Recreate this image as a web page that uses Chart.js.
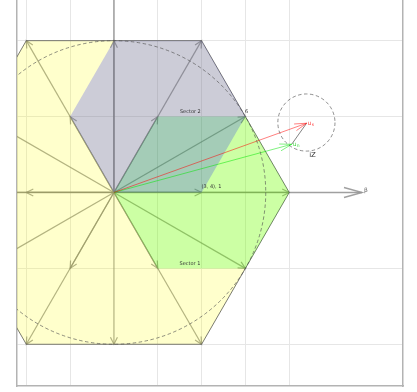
<!DOCTYPE html>
<html>
<head>
<meta charset="utf-8">
<title>Space vector sectors</title>
<script src="https://cdn.jsdelivr.net/npm/chart.js@4.4.0/dist/chart.umd.min.js"></script>
<style>
  html, body { margin: 0; padding: 0; background: #fff; }
  #wrap { width: 417px; height: 392px; }
</style>
</head>
<body>
<div id="wrap"><canvas id="svmChart" width="417" height="392"></canvas></div>
<script>
// outer voltage hexagon (|V| = 1)
const hexX = [1, 0.5, -0.5, -1, -0.5, 0.5, 1];
const hexY = [0, 0.866, 0.866, 0, -0.866, -0.866, 0];

// sector hexagons
const sector1X = [0, 0.25, 0.75, 1, 0.75, 0.25, 0];
const sector1Y = [0, -0.433, -0.433, 0, 0.433, 0.433, 0];
const sector2X = [0, 0.5, 0.75, 0.5, 0, -0.25, 0];
const sector2Y = [0, 0, 0.433, 0.866, 0.866, 0.433, 0];

// switching vectors from the origin
const fullVecX = [1, 0.5, -0.5, -1, -0.5, 0.5];
const fullVecY = [0, 0.866, 0.866, 0, -0.866, -0.866];
const halfVecX = [0.5, 0.25, -0.25, -0.5, -0.25, 0.25];
const halfVecY = [0, 0.433, 0.433, 0, -0.433, -0.433];
const midVecX = [0.75, 0, -0.75, -0.75, 0, 0.75];
const midVecY = [0.433, 0.866, 0.433, -0.433, -0.866, -0.433];

// phasors u_s and u_n
const usPoint = [1.099, 0.395];
const unPoint = [1.014, 0.275];

// alpha / beta axes
const axisAlphaX = [-0.6, 1.415];
const axisBetaY = [0, 1.3];

// dashed circles: inscribed circle and |iZ| circle around u_s
const circleX = [0, 1.098];
const circleY = [0, 0.399];
const circleR = [0.866, 0.163];

const xTicks = [-0.5, -0.25, 0.25, 0.5, 0.75, 1];
const yTicks = [-0.866, -0.433, 0.433, 0.866];

const labelText = ["Sector 2", "6", "Sector 1", "(3, 4), 1", "iZ", "β"];
const labelX = [0.436, 0.757, 0.434, 0.50, 1.133, 1.438];
const labelY = [0.459, 0.459, -0.405, 0.031, 0.21, 0.014];

const FONT = "DejaVu Sans";

function pts(xs, ys) {
    return xs.map((x, i) => ({ x: x, y: ys[i] }));
}
function seg(x0, y0, x1, y1) {
    return [{ x: x0, y: y0 }, { x: x1, y: y1 }];
}

const datasets = [];

// axis lines
datasets.push({
    data: seg(axisAlphaX[0], 0, axisAlphaX[1], 0),
    borderColor: "rgba(150,150,150,0.9)", borderWidth: 1.4,
    arrow: { len: 18, half: 5 }, order: 60
});
datasets.push({
    data: seg(0, axisBetaY[0], 0, axisBetaY[1]),
    borderColor: "rgba(150,150,150,0.9)", borderWidth: 1.6,
    arrow: { len: 18, half: 5 }, order: 60
});

// switching vectors
[[fullVecX, fullVecY], [halfVecX, halfVecY], [midVecX, midVecY]].forEach(([xs, ys]) => {
    xs.forEach((x, i) => {
        datasets.push({
            data: seg(0, 0, x, ys[i]),
            borderColor: "rgba(128,128,128,0.75)", borderWidth: 1.2,
            arrow: { len: 7, half: 3.5 }, order: 50
        });
    });
});

// hexagon and sectors
datasets.push({
    data: pts(hexX, hexY),
    borderColor: "rgba(90,90,80,0.8)", borderWidth: 1,
    backgroundColor: "rgba(255,255,0,0.2)", fill: "shape", order: 40
});
datasets.push({
    data: pts(sector1X, sector1Y),
    borderWidth: 0, borderColor: "rgba(0,0,0,0)",
    backgroundColor: "rgba(0,255,0,0.2)", fill: "shape", order: 30
});
datasets.push({
    data: pts(sector2X, sector2Y),
    borderWidth: 0, borderColor: "rgba(0,0,0,0)",
    backgroundColor: "rgba(0,0,255,0.2)", fill: "shape", order: 20
});

// iZ between the two phasors
datasets.push({
    data: seg(unPoint[0], unPoint[1], usPoint[0], usPoint[1]),
    borderColor: "rgba(60,60,60,0.8)", borderWidth: 0.8, order: 10
});
datasets.push({
    data: seg(0, 0, unPoint[0], unPoint[1]),
    borderColor: "rgba(0,230,0,0.5)", borderWidth: 1,
    arrow: { len: 12, half: 3.5 }, order: 5
});
datasets.push({
    data: seg(0, 0, usPoint[0], usPoint[1]),
    borderColor: "rgba(255,0,0,0.5)", borderWidth: 1,
    arrow: { len: 12, half: 3.5 }, order: 4
});

// open "V" arrow heads at the last point of a dataset
const arrowHeads = {
    id: "arrowHeads",
    afterDatasetDraw(chart, args) {
        const ds = chart.data.datasets[args.index];
        if (!ds.arrow) return;
        const p = args.meta.data;
        const a = p[p.length - 2], b = p[p.length - 1];
        const ang = Math.atan2(b.y - a.y, b.x - a.x);
        const c = Math.cos(ang), s = Math.sin(ang);
        const { len, half } = ds.arrow;
        const ctx = chart.ctx, area = chart.chartArea;
        ctx.save();
        ctx.beginPath();
        ctx.rect(area.left, area.top, area.right - area.left, area.bottom - area.top);
        ctx.clip();
        ctx.strokeStyle = ds.borderColor;
        ctx.lineWidth = ds.borderWidth;
        ctx.beginPath();
        ctx.moveTo(b.x - len * c + half * s, b.y - len * s - half * c);
        ctx.lineTo(b.x, b.y);
        ctx.lineTo(b.x - len * c - half * s, b.y - len * s + half * c);
        ctx.stroke();
        ctx.restore();
    }
};

// dashed circles and text
const overlay = {
    id: "overlay",
    afterDatasetsDraw(chart) {
        const ctx = chart.ctx, xs = chart.scales.x, ys = chart.scales.y;
        const area = chart.chartArea;
        ctx.save();
        ctx.beginPath();
        ctx.rect(area.left, area.top, area.right - area.left, area.bottom - area.top);
        ctx.clip();

        ctx.strokeStyle = "rgba(80,80,80,0.8)";
        ctx.lineWidth = 0.8;
        ctx.setLineDash([3.5, 2.5]);
        circleX.forEach((cx, i) => {
            const px = xs.getPixelForValue(cx), py = ys.getPixelForValue(circleY[i]);
            const rx = xs.getPixelForValue(cx + circleR[i]) - px;
            const ry = py - ys.getPixelForValue(circleY[i] + circleR[i]);
            ctx.beginPath();
            ctx.ellipse(px, py, rx, ry, 0, 0, Math.PI * 2);
            ctx.stroke();
        });
        ctx.setLineDash([]);

        const styles = [
            { size: 5, align: "center", color: "#333" },
            { size: 5, align: "center", color: "#333" },
            { size: 5, align: "center", color: "#333" },
            { size: 5, align: "left", color: "#333" },
            { size: 7, align: "center", color: "#333" },
            { size: 6, align: "center", color: "#666" }
        ];
        ctx.textBaseline = "middle";
        labelText.forEach((t, i) => {
            const st = styles[i];
            ctx.font = st.size + "px '" + FONT + "'";
            ctx.fillStyle = st.color;
            ctx.textAlign = st.align;
            ctx.fillText(t, xs.getPixelForValue(labelX[i]), ys.getPixelForValue(labelY[i]));
        });

        // phasor names with subscripts
        const phasorLabel = (pt, sub, color) => {
            const px = xs.getPixelForValue(pt[0]) + 1;
            const py = ys.getPixelForValue(pt[1]);
            ctx.fillStyle = color;
            ctx.textAlign = "left";
            ctx.font = "6px '" + FONT + "'";
            ctx.fillText("u", px, py);
            const w = ctx.measureText("u").width;
            ctx.font = "4.5px '" + FONT + "'";
            ctx.fillText(sub, px + w + 0.3, py + 2);
        };
        phasorLabel(usPoint, "s", "rgba(255,0,0,0.75)");
        phasorLabel(unPoint, "n", "rgba(0,200,0,0.75)");
        ctx.restore();
    }
};

new Chart(document.getElementById("svmChart"), {
    type: "line",
    data: { datasets: datasets },
    options: {
        responsive: false,
        animation: false,
        events: [],
        layout: { padding: { left: 17, right: 14, top: 0, bottom: 6 } },
        elements: {
            point: { radius: 0, hoverRadius: 0 },
            line: { tension: 0, fill: false }
        },
        plugins: {
            legend: { display: false },
            tooltip: { enabled: false }
        },
        scales: {
            x: {
                type: "linear",
                min: -0.553,
                max: 1.649,
                afterBuildTicks: axis => { axis.ticks = xTicks.map(v => ({ value: v })); },
                ticks: { display: false },
                grid: { color: "#e6e6e6", lineWidth: 1, drawTicks: false },
                border: { display: true, color: "#b3b3b3", width: 1.5 }
            },
            y: {
                type: "linear",
                min: -1.104,
                max: 1.098,
                afterBuildTicks: axis => { axis.ticks = yTicks.map(v => ({ value: v })); },
                ticks: { display: false },
                grid: { color: "#e6e6e6", lineWidth: 1, drawTicks: false },
                border: { display: true, color: "#b3b3b3", width: 1.5 }
            },
            yRight: {
                type: "linear",
                position: "right",
                min: -1.104,
                max: 1.098,
                ticks: { display: false },
                grid: { display: false, drawTicks: false },
                border: { display: true, color: "#b3b3b3", width: 1.5 }
            }
        }
    },
    plugins: [arrowHeads, overlay]
});
</script>
</body>
</html>
